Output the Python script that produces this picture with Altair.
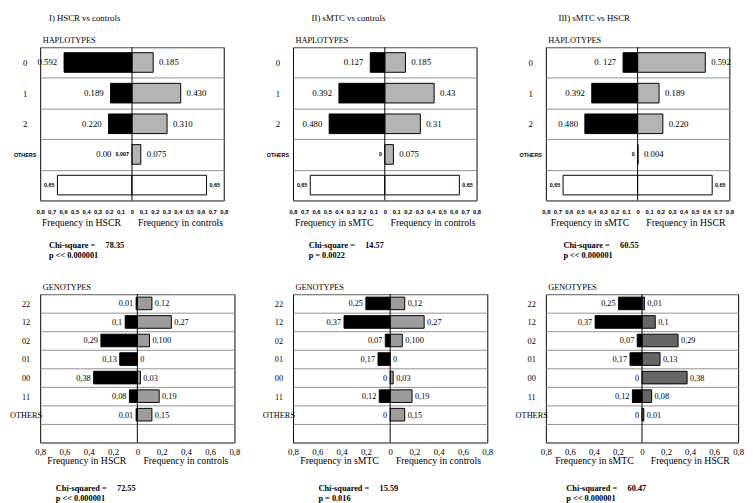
import altair as alt
import pandas as pd

SERIF = "Liberation Serif"
SANS = "Liberation Sans"
NB = "\u00a0"

col_titles = ["I) HSCR vs controls", "II) sMTC vs controls", "III) sMTC vs HSCR"]

hap_rows = ["0", "1", "2", "OTHERS", "blank"]
gen_rows = ["22", "12", "02", "01", "00", "11", "OTHERS", "blank"]

top_ticks = [-0.8, -0.7, -0.6, -0.5, -0.4, -0.3, -0.2, -0.1, 0.0,
             0.1, 0.2, 0.3, 0.4, 0.5, 0.6, 0.7, 0.8]
bot_ticks = [-0.8, -0.6, -0.4, -0.2, 0.0, 0.2, 0.4, 0.6, 0.8]

# ---- Haplotypes ----
h1_left = [0.592, 0.187, 0.204, 0.0, 0.65]
h1_right = [0.185, 0.425, 0.306, 0.077, 0.65]
h1_left_txt = ["0.592", "0.189", "0.220", "0,007", "0,65"]
h1_right_txt = ["0.185", "0.430", "0.310", "0.075", "0,65"]
h1_extra_txt = "0.00"

h2_left = [0.127, 0.40, 0.485, 0.0, 0.65]
h2_right = [0.18, 0.43, 0.31, 0.075, 0.65]
h2_left_txt = ["0.127", "0.392", "0.480", "0", "0,65"]
h2_right_txt = ["0.185", "0.43", "0.31", "0.075", "0,65"]

h3_left = [0.127, 0.40, 0.46, 0.0, 0.65]
h3_right = [0.59, 0.187, 0.22, 0.004, 0.65]
h3_left_txt = ["0. 127", "0.392", "0.480", "0", "0,65"]
h3_right_txt = ["0.592", "0.189", "0.220", "0.004", "0,65"]

# ---- Genotypes ----
g1_left = [0.01, 0.10, 0.30, 0.145, 0.36, 0.065, 0.01, 0.0]
g1_right = [0.12, 0.28, 0.10, 0.0, 0.025, 0.18, 0.12, 0.0]
g1_left_txt = ["0,01", "0,1", "0,29", "0,13", "0,38", "0,08", "0,01", ""]
g1_right_txt = ["0,12", "0,27", "0,100", "0", "0,03", "0,19", "0,15", ""]

g2_left = [0.20, 0.38, 0.04, 0.10, 0.0, 0.09, 0.0, 0.0]
g2_right = [0.12, 0.28, 0.10, 0.0, 0.025, 0.18, 0.12, 0.0]
g2_left_txt = ["0,25", "0,37", "0,07", "0,17", "0", "0,12", "0", ""]
g2_right_txt = ["0,12", "0,27", "0,100", "0", "0,03", "0,19", "0,15", ""]

g3_left = [0.195, 0.39, 0.04, 0.10, 0.0, 0.08, 0.0, 0.0]
g3_right = [0.02, 0.11, 0.30, 0.15, 0.375, 0.08, 0.015, 0.0]
g3_left_txt = ["0,25", "0,37", "0,07", "0,17", "0", "0,12", "0", ""]
g3_right_txt = ["0,01", "0,1", "0,29", "0,13", "0,38", "0,08", "0,01", ""]

x_titles = [("Frequency in HSCR", "Frequency in controls"),
            ("Frequency in sMTC", "Frequency in controls"),
            ("Frequency in sMTC", "Frequency in HSCR")]

h_chi = [("Chi-square =", "78.35", "p << 0.000001"),
         ("Chi-square =", "14.57", "p = 0.0022"),
         ("Chi-square =", "60.55", "p << 0.000001")]
g_chi = [("Chi-squared =", "72.55", "p << 0.000001"),
         ("Chi-squared =", "15.59", "p = 0.016"),
         ("Chi-squared =", "60.47", "p << 0.000001")]

LABEL_EXPR = "datum.value == 0 ? '0' : replace(format(abs(datum.value), '.1f'), '.', ',')"


def panel(rows, left, right, ltxt, rtxt, top, gray, ytitle, xtitle, chi,
          chi_dx, width, height, extra=None):
    recs = []
    for r, lv, rv, lt, rt in zip(rows, left, right, ltxt, rtxt):
        for side, v, t in (("L", -lv, lt), ("R", rv, rt)):
            recs.append({"row": r, "side": side, "val": v, "label": t,
                         "small": bool(top and (r == "blank" or (r == "OTHERS" and side == "L")))})
    df = pd.DataFrame(recs)

    if top:
        xaxis = alt.Axis(values=top_ticks, tickCount=len(top_ticks), labelExpr=LABEL_EXPR,
                         labelFont=SANS, labelFontSize=6, labelFontWeight="bold",
                         labelColor="black", ticks=False, domain=False, grid=False,
                         labelPadding=8, labelFlush=False, labelOverlap=False,
                         title=xtitle[0] + NB * 7 + xtitle[1], titleFont=SERIF,
                         titleFontSize=10, titleFontWeight="normal", titleColor="black",
                         titlePadding=4)
        ylab_font = {"condition": {"test": "datum.value == 'OTHERS'", "value": SANS}, "value": SERIF}
        ylab_size = {"condition": {"test": "datum.value == 'OTHERS'", "value": 5.5}, "value": 9}
        ylab_weight = {"condition": {"test": "datum.value == 'OTHERS'", "value": "bold"}, "value": "normal"}
        ylab_pad = 16
        band = 0.64
        fs = 9
        dxl, dxr = 7, 6
        chi_off = 14
    else:
        xaxis = alt.Axis(values=bot_ticks, tickCount=len(bot_ticks), labelExpr=LABEL_EXPR,
                         labelFont=SERIF, labelFontSize=9, labelColor="black",
                         ticks=False, domain=False, grid=False, labelPadding=5,
                         labelFlush=False, labelOverlap=False,
                         title=xtitle[0] + NB * 7 + xtitle[1], titleFont=SERIF,
                         titleFontSize=10, titleFontWeight="normal", titleColor="black",
                         titlePadding=0)
        ylab_font = SERIF
        ylab_size = 8.5
        ylab_weight = "normal"
        ylab_pad = 15
        band = 0.68
        fs = 8.5
        dxl, dxr = 3, 3
        chi_off = 19

    yaxis = alt.Axis(title=ytitle, titleAngle=0, titleAlign="left", titleX=2, titleY=-5,
                     titleBaseline="alphabetic", titleFont=SERIF, titleFontSize=8.5,
                     titleFontWeight="normal", titleColor="black",
                     labelExpr="datum.value == 'blank' ? '' : datum.value",
                     labelFont=ylab_font, labelFontSize=ylab_size, labelFontWeight=ylab_weight,
                     labelAlign="center", labelPadding=ylab_pad, labelColor="black",
                     ticks=False, domain=False, grid=True, gridColor="#909090",
                     gridWidth=1, tickBand="extent")

    xscale = alt.Scale(domain=[-0.8, 0.8], nice=False)
    X = alt.X("val:Q", scale=xscale, axis=xaxis)
    Y = alt.Y("row:N", scale=alt.Scale(domain=rows, paddingInner=0, paddingOuter=0),
              sort=rows, axis=yaxis)

    base = alt.Chart(df).encode(x=X, y=Y)
    bh = alt.RelativeBandSize(band)
    bars_l = base.transform_filter(
        "datum.side == 'L' && datum.row != 'blank' && datum.val != 0"
    ).mark_bar(height=bh, color="black", stroke="black", strokeWidth=1)
    bars_r = base.transform_filter(
        "datum.side == 'R' && datum.row != 'blank' && datum.val != 0"
    ).mark_bar(height=bh, color=gray, stroke="black", strokeWidth=1)
    bars_w = base.transform_filter(
        "datum.row == 'blank' && datum.val != 0"
    ).mark_bar(height=bh, color="white", stroke="black", strokeWidth=1)

    rule = alt.Chart(pd.DataFrame({"val": [0.0]})).mark_rule(
        color="black", strokeWidth=1).encode(x=X)

    txt_l = base.transform_filter(
        "datum.side == 'L' && !datum.small && datum.label != ''"
    ).mark_text(align="right", dx=-dxl, font=SERIF, fontSize=fs, color="black").encode(text="label:N")
    txt_r = base.transform_filter(
        "datum.side == 'R' && !datum.small && datum.label != ''"
    ).mark_text(align="left", dx=dxr, font=SERIF, fontSize=fs, color="black").encode(text="label:N")
    sm_l = base.transform_filter(
        "datum.side == 'L' && datum.small && datum.label != ''"
    ).mark_text(align="right", dx=-3, font=SANS, fontSize=5.5, fontWeight="bold",
                color="black").encode(text="label:N")
    sm_r = base.transform_filter(
        "datum.side == 'R' && datum.small && datum.label != ''"
    ).mark_text(align="left", dx=3, font=SANS, fontSize=5.5, fontWeight="bold",
                color="black").encode(text="label:N")

    layers = [bars_l, bars_r, bars_w, rule, txt_l, txt_r, sm_l, sm_r]
    if extra is not None:
        ex = alt.Chart(pd.DataFrame({"row": [extra[0]], "val": [0.0], "label": [extra[1]]})).mark_text(
            align="right", dx=-21, font=SERIF, fontSize=fs, color="black"
        ).encode(x=X, y=Y, text="label:N")
        layers.append(ex)

    chi_lines = [chi[0] + NB * 5 + chi[1], (NB if not top else "") + chi[2]]
    return alt.layer(*layers).properties(
        width=width, height=height,
        title=alt.TitleParams(text=chi_lines, orient="bottom", anchor="start", frame="group",
                              dx=chi_dx, font=SERIF, fontSize=8.5, fontWeight="bold",
                              color="black", offset=chi_off, lineHeight=10),
    )


tops = [
    panel(hap_rows, h1_left, h1_right, h1_left_txt, h1_right_txt, True, "#b4b4b4",
          "HAPLOTYPES", x_titles[0], h_chi[0], 9, 188, 157, extra=("OTHERS", h1_extra_txt)),
    panel(hap_rows, h2_left, h2_right, h2_left_txt, h2_right_txt, True, "#b4b4b4",
          "HAPLOTYPES", x_titles[1], h_chi[1], 16, 188, 157),
    panel(hap_rows, h3_left, h3_right, h3_left_txt, h3_right_txt, True, "#b4b4b4",
          "HAPLOTYPES", x_titles[2], h_chi[2], 18, 188, 157),
]
bots = [
    panel(gen_rows, g1_left, g1_right, g1_left_txt, g1_right_txt, False, "#9c9c9c",
          "GENOTYPES", x_titles[0], g_chi[0], 16, 199, 152),
    panel(gen_rows, g2_left, g2_right, g2_left_txt, g2_right_txt, False, "#9c9c9c",
          "GENOTYPES", x_titles[1], g_chi[1], 26, 199, 152),
    panel(gen_rows, g3_left, g3_right, g3_left_txt, g3_right_txt, False, "#666666",
          "GENOTYPES", x_titles[2], g_chi[2], 21, 197, 152),
]

title_dx = [41, 51, 45]
cols = []
for i in range(3):
    cols.append(alt.vconcat(tops[i], bots[i], spacing=22).properties(
        title=alt.TitleParams(text=col_titles[i], anchor="start", dx=title_dx[i],
                              offset=12, font=SERIF, fontSize=9, fontWeight="normal",
                              color="black")))

chart = alt.hconcat(*cols, spacing=20).properties(
    padding={"left": 0, "top": 0, "right": 0, "bottom": 0},
    background="white",
).configure_view(stroke="black", strokeWidth=1)

chart.save("out.html", embed_options={"renderer": "svg", "actions": False})
